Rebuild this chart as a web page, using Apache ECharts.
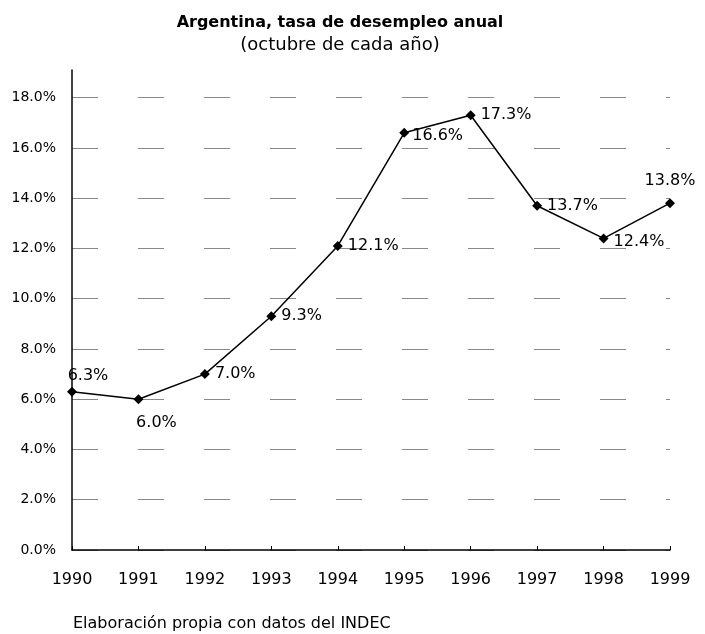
<!DOCTYPE html>
<html>
<head>
<meta charset="utf-8">
<script src="https://cdn.jsdelivr.net/npm/echarts@6/dist/echarts.min.js"></script>
<style>
html, body { margin: 0; padding: 0; background: #fff; }
#main { width: 705px; height: 634px; }
</style>
</head>
<body>
<div id="main"></div>
<script>
// datos
var years = ['1990', '1991', '1992', '1993', '1994', '1995', '1996', '1997', '1998', '1999'];
var desempleo = [6.3, 6.0, 7.0, 9.3, 12.1, 16.6, 17.3, 13.7, 12.4, 13.8];
// posicion de cada etiqueta
var labelPos = ['top', 'bottom', 'right', 'right', 'right', 'right', 'right', 'right', 'right', 'top'];

var chart = echarts.init(document.getElementById('main'));
var fuente = 'DejaVu Sans';

var puntos = desempleo.map(function (v, i) {
	var lbl = { position: labelPos[i] };
	if (i == 0) lbl.offset = [16, 2];
	if (i == 1) lbl.offset = [18, 6];
	if (i == 5) lbl.offset = [-2, 3];
	if (i == 8) lbl.offset = [0, 3];
	if (i == 9) lbl.offset = [0, -4];
	return { value: v, label: lbl };
});

option = {
	graphic: [{
		type: 'text',
		x: 340,
		y: 15,
		style: {
			text: 'Argentina, tasa de desempleo anual',
			fill: '#000',
			align: 'center',
			verticalAlign: 'top',
			font: 'bold 16px "DejaVu Sans"'
		}
	}, {
		type: 'text',
		x: 340,
		y: 36,
		style: {
			text: '(octubre de cada año)',
			fill: '#000',
			align: 'center',
			verticalAlign: 'top',
			font: '18px "DejaVu Sans"'
		}
	}, {
		type: 'text',
		left: 73,
		top: 616,
		style: {
			text: 'Elaboración propia con datos del INDEC',
			fill: '#000',
			font: '16px "DejaVu Sans"'
		}
	}],
	grid: {
		left: 72,
		right: 35,
		top: 70,
		bottom: 84
	},
	xAxis: {
		type: 'category',
		data: years,
		boundaryGap: false,
		axisLine: { lineStyle: { color: '#000', width: 1.5 } },
		axisTick: { show: true, inside: true, length: 4, lineStyle: { color: '#000' } },
		axisLabel: {
			color: '#000',
			fontFamily: fuente,
			fontSize: 16,
			margin: 22
		}
	},
	yAxis: {
		type: 'value',
		min: 0,
		max: 19.1,
		interval: 2,
		axisLine: { show: true, lineStyle: { color: '#000', width: 1.5 } },
		axisTick: { show: false },
		axisLabel: {
			color: '#000',
			fontFamily: fuente,
			fontSize: 14,
			margin: 16,
			showMaxLabel: false,
			formatter: function (v) { return v.toFixed(1) + '%'; }
		},
		splitLine: {
			show: true,
			showMaxLine: false,
			lineStyle: { color: '#888', width: 1, type: [26, 40] }
		}
	},
	series: [{
		name: 'Desempleo',
		type: 'line',
		data: puntos,
		symbol: 'diamond',
		symbolSize: 10,
		lineStyle: { color: '#000', width: 1.5 },
		itemStyle: { color: '#000' },
		label: {
			show: true,
			color: '#000',
			fontFamily: fuente,
			fontSize: 16,
			formatter: function (p) { return p.value.toFixed(1) + '%'; }
		},
		animation: false
	}]
};
chart.setOption(option);
</script>
</body>
</html>
